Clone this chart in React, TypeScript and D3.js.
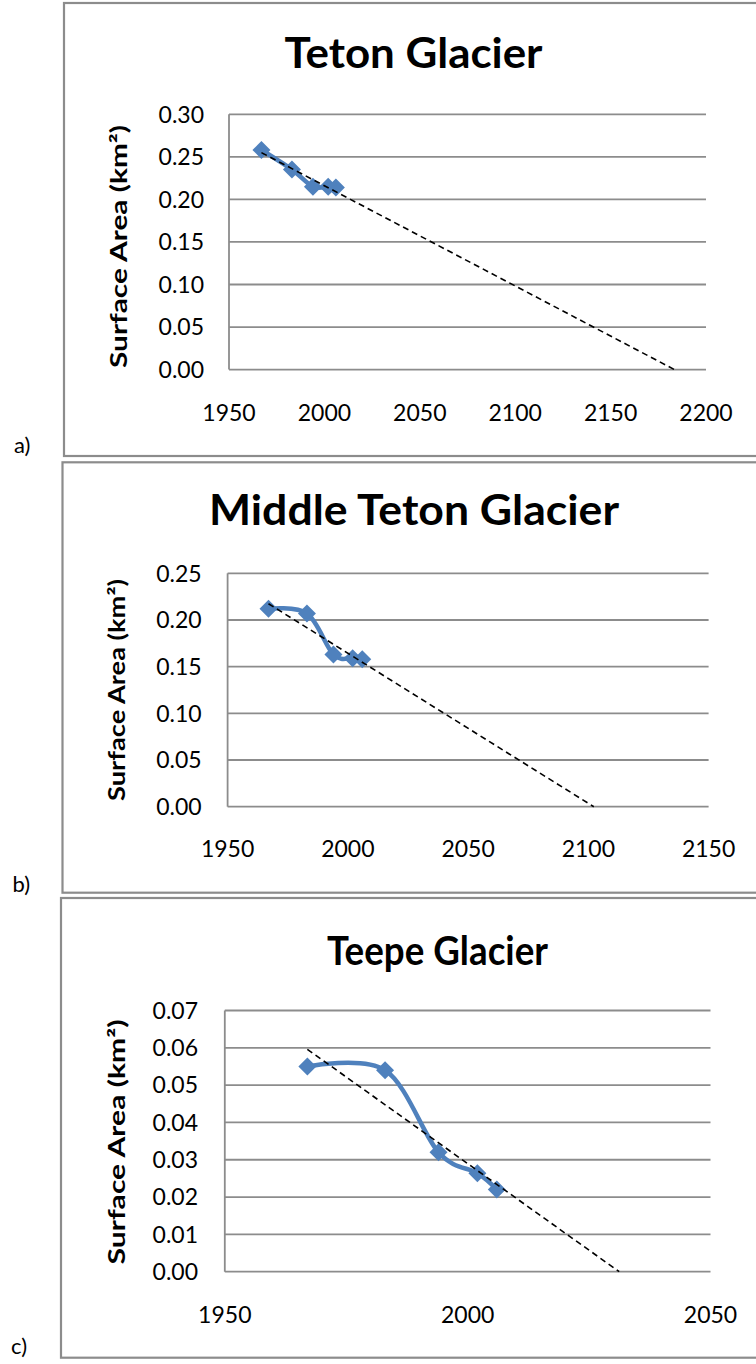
import React from "react";
import * as d3 from "d3";

// ---- data ----
const years = [1967, 1983, 1994, 2002, 2006];
const tetonArea = [0.258, 0.235, 0.215, 0.215, 0.214];
const middleTetonArea = [0.212, 0.207, 0.163, 0.159, 0.158];
const teepeArea = [0.055, 0.054, 0.032, 0.0264, 0.022];

const titles = ["Teton Glacier", "Middle Teton Glacier", "Teepe Glacier"];
const panelLabels = ["a)", "b)", "c)"];
const yAxisTitle = "Surface Area (km²)";

const xTicksA = [1950, 2000, 2050, 2100, 2150, 2200];
const xTicksB = [1950, 2000, 2050, 2100, 2150];
const xTicksC = [1950, 2000, 2050];
const yTicksA = [0, 0.05, 0.1, 0.15, 0.2, 0.25, 0.3];
const yTicksB = [0, 0.05, 0.1, 0.15, 0.2, 0.25];
const yTicksC = [0, 0.01, 0.02, 0.03, 0.04, 0.05, 0.06, 0.07];

// ---- layout ----
const panels = [
  {
    values: tetonArea, title: titles[0], label: panelLabels[0], xTicks: xTicksA, yTicks: yTicksA,
    box: { x: 64, y: 3, b: 456 },
    plot: { l: 229, r: 706, t: 114.3, b: 369.6 },
    titleX: 413.5, titleY: 68.3, titleLen: 258, titleSize: 42,
    yTitle: { x: 119, y: 246.5, len: 243 },
    xLabY: 420.7, yLabR: 204, labelY: 453,
  },
  {
    values: middleTetonArea, title: titles[1], label: panelLabels[1], xTicks: xTicksB, yTicks: yTicksB,
    box: { x: 62.5, y: 462.3, b: 892.7 },
    plot: { l: 227.6, r: 708.6, t: 573.3, b: 806.7 },
    titleX: 414, titleY: 525, titleLen: 410, titleSize: 42,
    yTitle: { x: 117, y: 690, len: 222 },
    xLabY: 857.3, yLabR: 201.7, labelY: 892,
  },
  {
    values: teepeArea, title: titles[2], label: panelLabels[2], xTicks: xTicksC, yTicks: yTicksC,
    box: { x: 61, y: 898, b: 1357.7 },
    plot: { l: 224.8, r: 710.5, t: 1010.5, b: 1271.7 },
    titleX: 437.5, titleY: 965, titleLen: 221, titleSize: 40,
    yTitle: { x: 117, y: 1142, len: 245 },
    xLabY: 1322.5, yLabR: 198, labelY: 1354,
  },
];

const BLUE = "#4F81BD";
const GRID = "#8c8c8c";
const FONT = "Lato, 'Open Sans', sans-serif";

function regression(xs: number[], ys: number[]) {
  const mx = d3.mean(xs)!;
  const my = d3.mean(ys)!;
  let sxy = 0, sxx = 0;
  xs.forEach((x, i) => { sxy += (x - mx) * (ys[i] - my); sxx += (x - mx) * (x - mx); });
  const slope = sxy / sxx;
  const intercept = my - slope * mx;
  return { slope, intercept };
}

function Panel({ p }: { p: any }) {
  const x = d3.scaleLinear().domain([p.xTicks[0], p.xTicks[p.xTicks.length - 1]]).range([p.plot.l, p.plot.r]);
  const y = d3.scaleLinear().domain([p.yTicks[0], p.yTicks[p.yTicks.length - 1]]).range([p.plot.b, p.plot.t]);
  const pts: [number, number][] = years.map((yr, i) => [yr, p.values[i]]);
  const line = d3.line<[number, number]>().x(d => x(d[0])).y(d => y(d[1])).curve(d3.curveCardinal.tension(0));
  const reg = regression(years, p.values);
  const x0 = years[0];
  const xEnd = -reg.intercept / reg.slope;
  const fmtY = d3.format(".2f");
  const r = 9;
  return (
    <g>
      <rect x={p.box.x} y={p.box.y} width={900} height={p.box.b - p.box.y} fill="white" stroke={GRID} strokeWidth={2.2} />
      <text x={p.titleX} y={p.titleY} fontFamily={FONT} fontWeight={700} fontSize={p.titleSize} textAnchor="middle"
        textLength={p.titleLen} lengthAdjust="spacingAndGlyphs">{p.title}</text>
      {p.yTicks.map((t: number) => (
        <g key={t}>
          <line x1={p.plot.l} x2={p.plot.r} y1={y(t)} y2={y(t)} stroke={GRID} strokeWidth={1.8} />
          <text x={p.yLabR} y={y(t)} dy="0.36em" textAnchor="end" fontFamily={FONT} fontSize={23}>{fmtY(t)}</text>
        </g>
      ))}
      <line x1={p.plot.l} x2={p.plot.l} y1={p.plot.t} y2={p.plot.b} stroke={GRID} strokeWidth={1.8} />
      {p.xTicks.map((t: number) => (
        <text key={t} x={x(t)} y={p.xLabY} textAnchor="middle" fontFamily={FONT} fontSize={23}>{t}</text>
      ))}
      <text transform={`translate(${p.yTitle.x},${p.yTitle.y}) rotate(-90)`} textAnchor="middle" dy="0.36em"
        fontFamily={FONT} fontWeight={700} fontSize={22} textLength={p.yTitle.len} lengthAdjust="spacingAndGlyphs">{yAxisTitle}</text>
      <path d={line(pts)!} fill="none" stroke={BLUE} strokeWidth={4.5} strokeLinejoin="round" />
      {pts.map((d, i) => {
        const cx = x(d[0]), cy = y(d[1]);
        return <path key={i} d={`M${cx},${cy - r}L${cx + r},${cy}L${cx},${cy + r}L${cx - r},${cy}Z`} fill={BLUE} />;
      })}
      <line x1={x(x0)} y1={y(reg.intercept + reg.slope * x0)} x2={x(xEnd)} y2={y(0)}
        stroke="black" strokeWidth={1.6} strokeDasharray="6,4" />
      <text x={p.box.x - 50} y={p.labelY} fontFamily={FONT} fontSize={22}>{p.label}</text>
    </g>
  );
}

export default function App() {
  return (
    <svg width={756} height={1364} style={{ position: "absolute", left: 0, top: 0, background: "white" }}>
      <rect x={0} y={0} width={756} height={1364} fill="white" />
      {panels.map((p, i) => <Panel key={i} p={p} />)}
    </svg>
  );
}
